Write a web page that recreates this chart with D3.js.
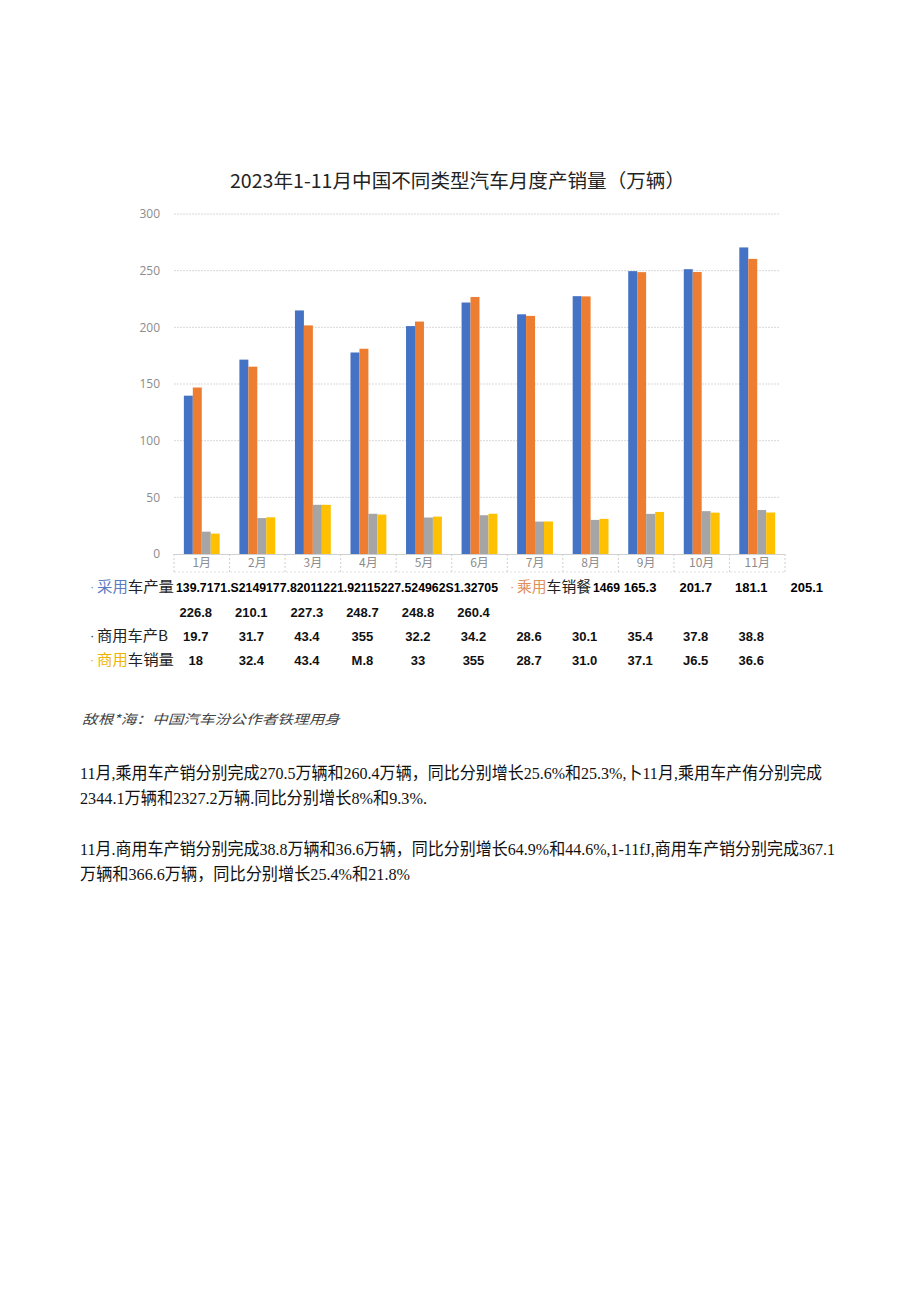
<!DOCTYPE html>
<html>
<head>
<meta charset="utf-8">
<script src="https://cdn.jsdelivr.net/npm/d3@7"></script>
<style>
  body { margin: 0; background: #fff; }
  svg text { font-family: "Noto Sans CJK SC", "Noto Sans", sans-serif; }
</style>
</head>
<body>
<div id="chart-area"></div>
<script>
// data
var months = ["1月", "2月", "3月", "4月", "5月", "6月", "7月", "8月", "9月", "10月", "11月"];
var seriesNames = ["乘用车产量", "乘用车销量", "商用车产量", "商用车销量"];
var passengerProd = [139.7, 171.5, 214.9, 177.8, 201.1, 221.9, 211.5, 227.5, 249.6, 251.3, 270.5];
var passengerSales = [146.9, 165.3, 201.7, 181.1, 205.1, 226.8, 210.1, 227.3, 248.7, 248.8, 260.4];
var commercialProd = [19.7, 31.7, 43.4, 35.5, 32.2, 34.2, 28.6, 30.1, 35.4, 37.8, 38.8];
var commercialSales = [18, 32.4, 43.4, 34.8, 33, 35.5, 28.7, 31.0, 37.1, 36.5, 36.6];
var yTicks = [0, 50, 100, 150, 200, 250, 300];
var colors = ["#4472c4", "#ed7d31", "#a5a5a5", "#ffc000"];

// the table under the chart, as printed
var row1Text = "139.7171.S2149177.82011221.92115227.524962S1.32705";
var row1Tail = ["165.3", "201.7", "181.1", "205.1"];
var row2Cells = ["226.8", "210.1", "227.3", "248.7", "248.8", "260.4"];
var row3Cells = ["19.7", "31.7", "43.4", "355", "32.2", "34.2", "28.6", "30.1", "35.4", "37.8", "38.8"];
var row4Cells = ["18", "32.4", "43.4", "M.8", "33", "355", "28.7", "31.0", "37.1", "J6.5", "36.6"];

var title = "2023年1-11月中国不同类型汽车月度产销量（万辆）";
var source = "敌根*海：中国汽车汾公作者铁理用身";
var paragraphs = [
  "11月,乘用车产销分别完成270.5万辆和260.4万辆，同比分别增长25.6%和25.3%,卜11月,乘用车产侑分别完成",
  "2344.1万辆和2327.2万辆.同比分别增长8%和9.3%.",
  "11月.商用车产销分别完成38.8万辆和36.6万辆，同比分别增长64.9%和44.6%,1-11fJ,商用车产销分别完成367.1",
  "万辆和366.6万辆，同比分别增长25.4%和21.8%"
];

var W = 920, H = 1301;
var svg = d3.select("#chart-area").append("svg")
  .attr("width", W).attr("height", H);

var plot = {left: 174, right: 785, top: 214, bottom: 554};

var x = d3.scaleBand()
  .domain(months)
  .range([plot.left, plot.right]);
var x1 = d3.scaleBand()
  .domain(d3.range(4))
  .range([0, x.bandwidth()])
  .paddingOuter(1.1);
var y = d3.scaleLinear()
  .domain([0, 300])
  .range([plot.bottom, plot.top]);

// title
svg.append("text")
  .attr("x", 230).attr("y", 188)
  .attr("font-size", "19px")
  .attr("fill", "#222")
  .attr("textLength", 455)
  .attr("lengthAdjust", "spacingAndGlyphs")
  .text(title);

// gridlines
svg.append("g").selectAll("line")
  .data(yTicks.slice(1))
  .enter().append("line")
  .attr("x1", plot.left).attr("x2", 780)
  .attr("y1", function (d) { return y(d); })
  .attr("y2", function (d) { return y(d); })
  .attr("stroke", "#d9d9d9")
  .attr("stroke-dasharray", "2,1");

// y axis labels
var yAxis = svg.append("g")
  .attr("transform", "translate(" + (plot.left - 4) + ",0)")
  .call(d3.axisLeft(y).tickValues(yTicks).tickSize(0).tickPadding(10));
yAxis.select(".domain").remove();
yAxis.selectAll("text")
  .attr("font-size", "12px")
  .attr("fill", "#8c8c8c")
  .style("font-family", "'Open Sans', sans-serif");

// bars
var all = [passengerProd, passengerSales, commercialProd, commercialSales];
var groups = svg.append("g").selectAll("g")
  .data(months)
  .enter().append("g")
  .attr("transform", function (m) { return "translate(" + x(m) + ",0)"; });

groups.selectAll("rect")
  .data(function (m, i) { return all.map(function (s, k) { return {k: k, v: s[i]}; }); })
  .enter().append("rect")
  .attr("x", function (d) { return x1(d.k); })
  .attr("width", x1.bandwidth())
  .attr("y", function (d) { return y(d.v); })
  .attr("height", function (d) { return y(0) - y(d.v); })
  .attr("fill", function (d) { return colors[d.k]; });

// category row with dotted cells
var cellBottom = 572;
svg.append("line")
  .attr("x1", plot.left).attr("x2", plot.right)
  .attr("y1", plot.bottom + 0.5).attr("y2", plot.bottom + 0.5)
  .attr("stroke", "#d0d0d0");
svg.append("line")
  .attr("x1", plot.left).attr("x2", plot.right)
  .attr("y1", cellBottom).attr("y2", cellBottom)
  .attr("stroke", "#e0e0e0").attr("stroke-dasharray", "2,2");
svg.append("g").selectAll("line")
  .data(months.concat(["end"]))
  .enter().append("line")
  .attr("x1", function (m, i) { return plot.left + i * x.bandwidth(); })
  .attr("x2", function (m, i) { return plot.left + i * x.bandwidth(); })
  .attr("y1", plot.bottom).attr("y2", cellBottom)
  .attr("stroke", "#d0d0d0").attr("stroke-dasharray", "2,2");

var xAxis = svg.append("g")
  .attr("transform", "translate(0," + plot.bottom + ")")
  .call(d3.axisBottom(x).tickSize(0).tickPadding(4));
xAxis.select(".domain").remove();
xAxis.selectAll("text")
  .attr("font-size", "12px")
  .attr("fill", "#8c8c8c");

// table under the chart
function col(i) { return plot.left + x.bandwidth() * (i + 0.5) - 6; }
var tb = svg.append("g");
var numFont = "'Liberation Sans', Arial, sans-serif";

function label(yy, bulletColor, part1, c1, part2, xx, len) {
  tb.append("text").attr("x", xx - 7).attr("y", yy - 1)
    .attr("font-size", "13px").attr("fill", bulletColor)
    .style("font-family", numFont)
    .text("·");
  var t = tb.append("text").attr("x", xx).attr("y", yy)
    .attr("font-size", "15px")
    .attr("textLength", len).attr("lengthAdjust", "spacingAndGlyphs");
  t.append("tspan").attr("fill", c1).text(part1);
  t.append("tspan").attr("fill", "#222").text(part2);
}

var r1 = 592, r2 = 617, r3 = 641, r4 = 665;
label(r1, "#7f8fb5", "采用", "#5b7bc4", "车产量", 97, 77);
tb.append("text")
  .attr("x", 176).attr("y", r1)
  .attr("font-size", "13px").attr("font-weight", "bold")
  .style("font-family", numFont)
  .attr("textLength", 322).attr("lengthAdjust", "spacingAndGlyphs")
  .text(row1Text);
label(r1, "#e0905a", "乘用", "#e0905a", "车销餐", 517, 74);
tb.append("text")
  .attr("x", 593).attr("y", r1)
  .attr("font-size", "13px").attr("font-weight", "bold")
  .style("font-family", numFont)
  .attr("textLength", 27).attr("lengthAdjust", "spacingAndGlyphs")
  .text("1469");
tb.selectAll(".r1t").data(row1Tail).enter().append("text")
  .attr("x", function (d, i) { return col(i + 8); })
  .attr("y", r1)
  .attr("text-anchor", "middle")
  .attr("font-size", "13px").attr("font-weight", "bold")
  .style("font-family", numFont)
  .text(function (d) { return d; });

function cells(arr, yy) {
  tb.append("g").selectAll("text").data(arr).enter().append("text")
    .attr("x", function (d, i) { return col(i); })
    .attr("y", yy)
    .attr("text-anchor", "middle")
    .attr("font-size", "13px").attr("font-weight", "bold")
    .style("font-family", numFont)
    .attr("fill", "#111")
    .text(function (d) { return d; });
}
cells(row2Cells, r2);
label(r3, "#222", "", "#222", "商用车产B", 97, 71);
cells(row3Cells, r3);
label(r4, "#f0b400", "商用", "#f0b400", "车销量", 97, 77);
cells(row4Cells, r4);

// source note
svg.append("text")
  .attr("x", 82).attr("y", 724)
  .attr("font-size", "13px")
  .attr("font-style", "italic")
  .attr("fill", "#444")
  .attr("textLength", 258).attr("lengthAdjust", "spacingAndGlyphs")
  .text(source);

// paragraphs
var paraY = [779, 804, 855, 880];
var paraEnd = [822, 427, 835, 410];
svg.append("g").selectAll("text")
  .data(paragraphs)
  .enter().append("text")
  .attr("x", 80)
  .attr("y", function (d, i) { return paraY[i]; })
  .attr("font-size", "17px")
  .attr("fill", "#111")
  .style("font-family", "'Liberation Serif', 'Noto Sans CJK SC', serif")
  .attr("textLength", function (d, i) { return paraEnd[i] - 80; })
  .attr("lengthAdjust", "spacingAndGlyphs")
  .text(function (d) { return d; });
</script>
</body>
</html>
